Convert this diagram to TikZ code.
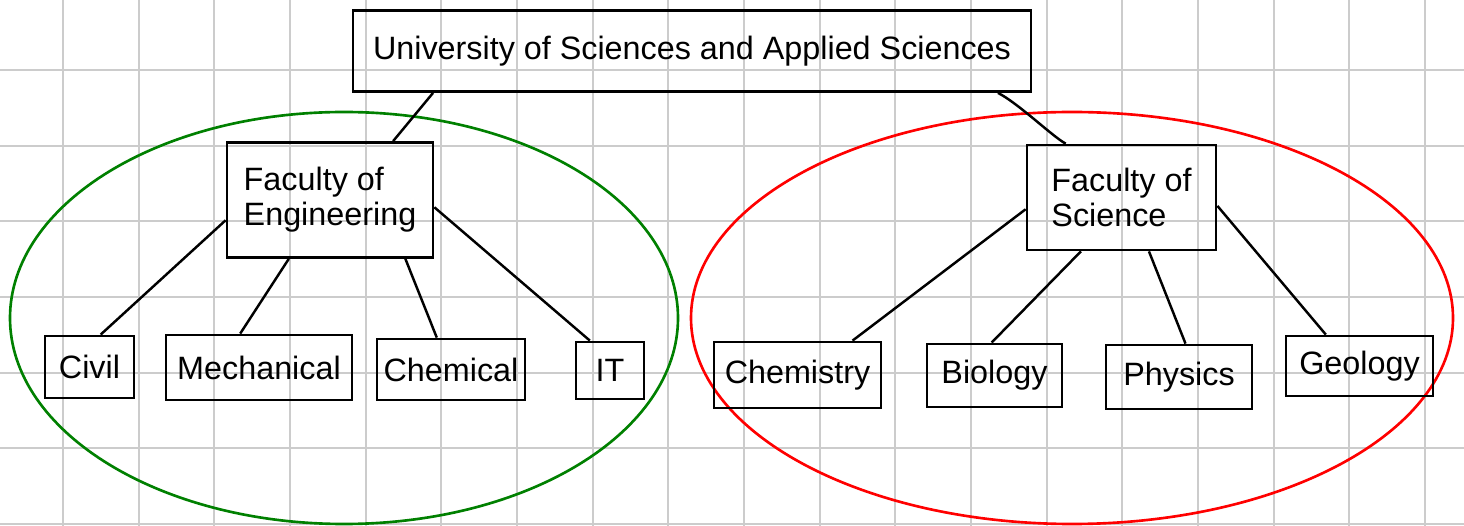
\documentclass[tikz,border=0pt]{standalone}
\usepackage{fontspec}
\setmainfont{Liberation Sans}
\definecolor{gridGray}{RGB}{204,204,204}
\definecolor{engGreen}{RGB}{0,128,0}
\definecolor{sciRed}{RGB}{255,0,0}
\begin{document}
\begin{tikzpicture}[x=0.02cm,y=-0.02cm,
  gridline/.style={gridGray,line width=1.1pt},
  unitbox/.style={draw,line width=1.6pt,inner sep=0pt,font=\fontsize{18.4}{20}\selectfont},
  facbox/.style={unitbox,align=left},
  link/.style={line width=1.4pt},
  ring/.style={line width=1.5pt}]
  \useasboundingbox (0,0) rectangle (1464,526);
  % squared paper
  \foreach \k in {0,...,18} \draw[gridline] (63+75.67*\k,0) -- (63+75.67*\k,526);
  \foreach \k in {0,...,6} \draw[gridline] (0,70+75.67*\k) -- (1464,70+75.67*\k);
  % groups
  \draw[ring,engGreen] (344,318) ellipse [x radius=334, y radius=206];
  \draw[ring,sciRed] (1072,318) ellipse [x radius=381, y radius=206];
  % boxes
  \node[unitbox,minimum width=13.56cm,minimum height=1.62cm] (uni) at (692,51) {University of Sciences and Applied Sciences};
  \node[facbox,minimum width=4.12cm,minimum height=2.3cm] (eng) at (330,200) {Faculty of\\Engineering};
  \node[facbox,minimum width=3.78cm,minimum height=2.1cm] (sci) at (1121.5,197.5) {Faculty of\\Science};
  \node[unitbox,minimum width=1.78cm,minimum height=1.24cm] (civil) at (89.5,367) {Civil};
  \node[unitbox,minimum width=3.72cm,minimum height=1.3cm] (mech) at (259,367.5) {Mechanical};
  \node[unitbox,minimum width=2.96cm,minimum height=1.22cm] (chem) at (451,369.5) {Chemical};
  \node[unitbox,minimum width=1.36cm,minimum height=1.14cm] (it) at (610,370.5) {IT};
  \node[unitbox,minimum width=3.34cm,minimum height=1.32cm] (chemistry) at (797.5,375) {Chemistry};
  \node[unitbox,minimum width=2.7cm,minimum height=1.26cm] (bio) at (994.5,375.5) {Biology};
  \node[unitbox,minimum width=2.92cm,minimum height=1.28cm] (phys) at (1179,377) {Physics};
  \node[unitbox,minimum width=2.94cm,minimum height=1.2cm] (geo) at (1359.5,366) {Geology};
  % links
  \draw[link] ([xshift=-5.18cm]uni.south) -- (eng.43);
  \draw[link] ([xshift=6.12cm]uni.south) .. controls +(20,10) and +(-12,-6) .. (sci.136);
  \draw[link] (eng.191) -- (civil.71);
  \draw[link] (eng.235) -- (mech.119);
  \draw[link] (eng.-38) -- (chem.114);
  \draw[link] (eng.-4) -- (it.124);
  \draw[link] (sci.187) -- (chemistry.32);
  \draw[link] (sci.233) -- (bio.95);
  \draw[link] (sci.-63) -- (phys.79);
  \draw[link] (sci.-5) -- (geo.137);
\end{tikzpicture}
\end{document}
